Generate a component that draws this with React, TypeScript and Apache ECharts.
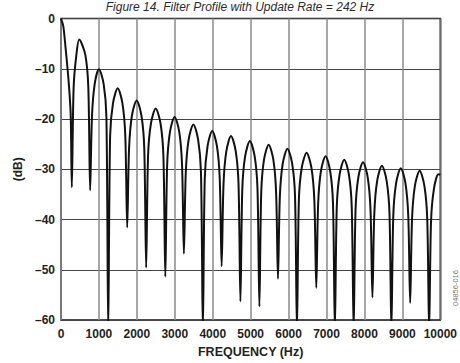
import React, { useEffect, useRef } from "react";
import * as echarts from "echarts";

const TITLE = "Figure 14. Filter Profile with Update Rate = 242 Hz";
const X_NAME = "FREQUENCY (Hz)";
const Y_NAME = "(dB)";
const FIGURE_ID = "04856-016";

const X_MIN = 0;
const X_MAX = 10000;
const X_STEP = 1000;
const Y_MIN = -60;
const Y_MAX = 0;
const Y_STEP = 10;

// Filter response: [frequency Hz, level dB]
// each row: rising side, lobe peak, falling side, notch
const responseCurve: [number, number][] = [
  [0, 0], [60, -1.5], [120, -5.8], [200, -12.4], [255, -19], [285, -33.6],
  [333, -13.7], [406, -7.2], [480, -4.2], [640, -7.2], [720, -13.7], [768, -34.2],
  [816, -19.6], [887, -13.1], [1000, -10.1], [1126, -13.1], [1197, -19.6], [1245, -62],
  [1295, -23.4], [1370, -16.9], [1495, -13.9], [1620, -16.9], [1695, -23.4], [1745, -41.6],
  [1795, -25.8], [1870, -19.3], [1995, -16.3], [2120, -19.3], [2195, -25.8], [2245, -49.6],
  [2295, -27.4], [2371, -20.9], [2497, -17.9], [2624, -20.9], [2700, -27.4], [2750, -51.4],
  [2799, -29.1], [2872, -22.6], [2995, -19.6], [3118, -22.6], [3191, -29.1], [3240, -46.8],
  [3290, -30.6], [3365, -24.1], [3490, -21.1], [3615, -24.1], [3690, -30.6], [3740, -62],
  [3790, -31.9], [3864, -25.4], [3987, -22.4], [4111, -25.4], [4185, -31.9], [4235, -49.3],
  [4285, -32.9], [4359, -26.4], [4482, -23.4], [4606, -26.4], [4680, -32.9], [4730, -56.3],
  [4780, -33.9], [4855, -27.4], [4980, -24.4], [5105, -27.4], [5180, -33.9], [5230, -57.3],
  [5279, -34.6], [5352, -28.1], [5475, -25.1], [5598, -28.1], [5671, -34.6], [5720, -51.8],
  [5770, -35.4], [5845, -28.9], [5970, -25.9], [6095, -28.9], [6170, -35.4], [6220, -62],
  [6271, -36.2], [6347, -29.7], [6475, -26.7], [6602, -29.7], [6679, -36.2], [6730, -53.6],
  [6779, -36.9], [6852, -30.4], [6975, -27.4], [7097, -30.4], [7171, -36.9], [7220, -62],
  [7270, -37.6], [7344, -31.1], [7467, -28.1], [7591, -31.1], [7665, -37.6], [7715, -62],
  [7765, -38.1], [7839, -31.6], [7962, -28.6], [8086, -31.6], [8160, -38.1], [8210, -55.5],
  [8260, -38.8], [8335, -32.3], [8460, -29.3], [8585, -32.3], [8660, -38.8], [8710, -62],
  [8760, -39.3], [8834, -32.8], [8957, -29.8], [9081, -32.8], [9155, -39.3], [9205, -56.6],
  [9255, -39.8], [9330, -33.3], [9455, -30.3], [9580, -33.3], [9655, -39.8], [9705, -62],
  [9755, -40.5], [9830, -34], [9950, -31], [10000, -31.1],
];

const FONT = "'Liberation Sans', Arial, sans-serif";
const INK = "#231f20";

export default function App() {
  const ref = useRef<HTMLDivElement>(null);

  useEffect(() => {
    if (!ref.current) return;
    const chart = echarts.init(ref.current, undefined, { renderer: "svg" });
    chart.setOption({
      animation: false,
      backgroundColor: "#ffffff",
      grid: {
        left: 61,
        right: 16,
        top: 18.5,
        bottom: 38,
        show: true,
        borderColor: "#111",
        borderWidth: 1.5,
        backgroundColor: "transparent",
      },
      xAxis: {
        type: "value",
        min: X_MIN,
        max: X_MAX,
        interval: X_STEP,
        name: X_NAME,
        nameLocation: "middle",
        nameGap: 25,
        nameTextStyle: { fontFamily: FONT, fontWeight: "bold", fontSize: 12.5, color: INK },
        axisLine: { show: false },
        axisTick: { show: false },
        axisLabel: {
          margin: 8,
          fontFamily: FONT,
          fontWeight: "bold",
          fontSize: 12,
          color: INK,
          showMinLabel: true,
          showMaxLabel: true,
          formatter: (v: number) => String(v),
        },
        splitLine: { show: true, lineStyle: { color: "#8a8a8a", width: 1.5 } },
      },
      yAxis: {
        type: "value",
        min: Y_MIN,
        max: Y_MAX,
        interval: Y_STEP,
        name: Y_NAME,
        nameLocation: "middle",
        nameGap: 35,
        nameTextStyle: { fontFamily: FONT, fontWeight: "bold", fontSize: 12, color: INK },
        axisLine: { show: false },
        axisTick: { show: false },
        axisLabel: {
          margin: 6,
          fontFamily: FONT,
          fontWeight: "bold",
          fontSize: 12,
          color: INK,
          formatter: (v: number) => (v < 0 ? "\u2013" + Math.abs(v) : String(v)),
        },
        splitLine: { show: true, lineStyle: { color: "#444", width: 1.2 } },
      },
      graphic: [
        {
          type: "text",
          x: 240,
          y: 1,
          style: {
            text: TITLE,
            fontFamily: FONT,
            fontStyle: "italic",
            fontSize: 12,
            fill: "#2a2a35",
            textAlign: "center",
            textVerticalAlign: "top",
          },
        },
        {
          type: "text",
          x: 455,
          y: 288,
          rotation: Math.PI / 2,
          style: {
            text: FIGURE_ID,
            fontFamily: FONT,
            fontSize: 7.5,
            fill: "#777",
            textAlign: "center",
            textVerticalAlign: "middle",
          },
        },
      ],
      series: [
        {
          type: "line",
          data: responseCurve,
          showSymbol: false,
          smooth: 0.3,
          clip: true,
          lineStyle: { color: "#111", width: 2 },
          emphasis: { disabled: true },
        },
      ],
    });
    return () => chart.dispose();
  }, []);

  return (
    <div
      ref={ref}
      style={{ position: "fixed", left: 0, top: 0, width: 460, height: 363 }}
    />
  );
}
